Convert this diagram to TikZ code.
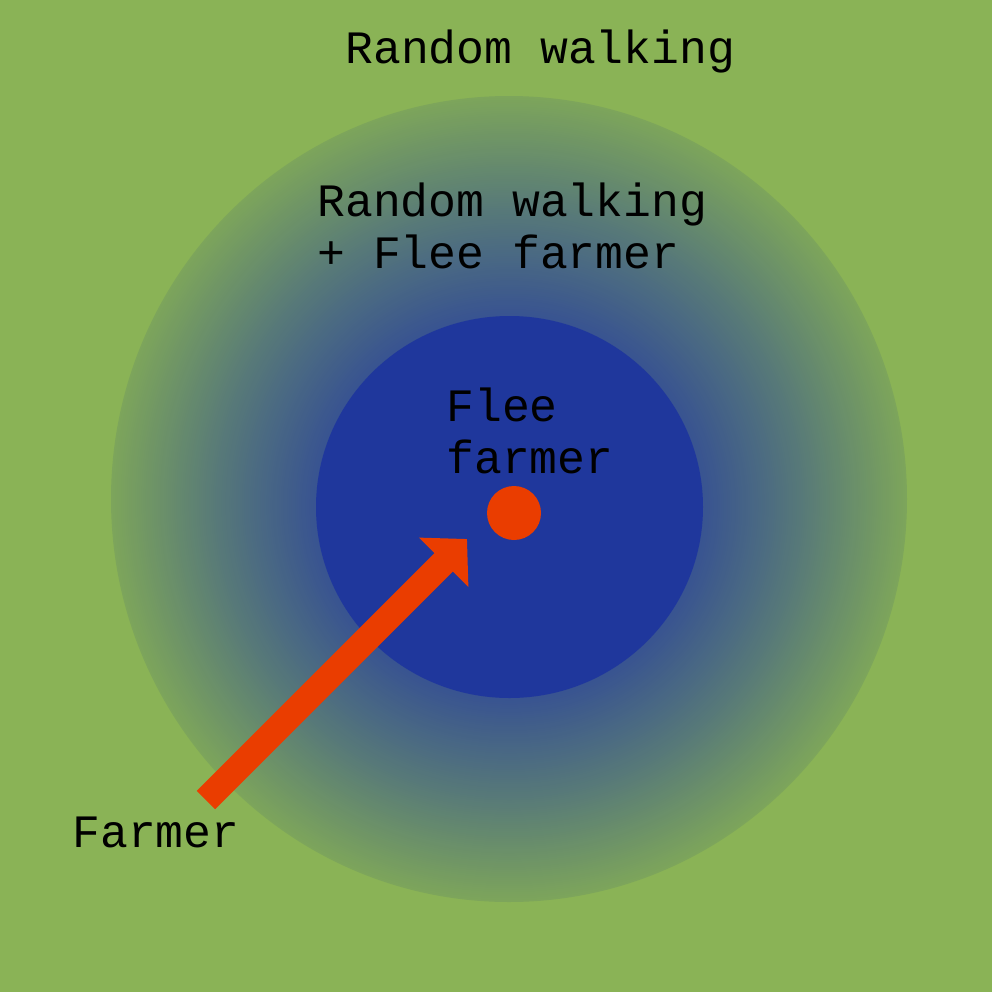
\documentclass[tikz,border=0pt]{standalone}
\usepackage{fontspec}
\setmonofont{Liberation Mono}
\usetikzlibrary{arrows.meta}
\definecolor{bggreen}{HTML}{8AB356}
\definecolor{ringin}{HTML}{385391}
\definecolor{ringmid}{HTML}{587A78}
\definecolor{ringout}{HTML}{7DA55B}
\definecolor{coreblue}{HTML}{1F379C}
\definecolor{farmred}{HTML}{EA3D00}
\begin{document}
\begin{tikzpicture}[x=0.5pt,y=-0.5pt,
  lbl/.style={anchor=base west,inner sep=0pt,font=\ttfamily\fontsize{23.2pt}{26pt}\selectfont,text=black},
  farmerarrow/.style={draw=farmred,line width=13pt,line cap=butt,-{Triangle[length=16.5pt,width=34pt]}}]
\useasboundingbox (0,0) rectangle (992,992);
\fill[bggreen] (0,0) rectangle (992,992);
% radial gradient ring, drawn as fine concentric ellipses
\foreach \i in {0,...,100}{
  \pgfmathsetmacro{\t}{\i/100}
  \pgfmathsetmacro{\cx}{509+0.5*\t}
  \pgfmathsetmacro{\cy}{499+8*\t}
  \pgfmathsetmacro{\rx}{398-204.5*\t}
  \pgfmathsetmacro{\ry}{403-212*\t}
  \ifnum\i<51
    \pgfmathsetmacro{\p}{2*\i}
    \fill[ringmid!\p!ringout] (\cx,\cy) ellipse[x radius=\rx,y radius=\ry];
  \else
    \pgfmathsetmacro{\p}{2*(\i-50)}
    \fill[ringin!\p!ringmid] (\cx,\cy) ellipse[x radius=\rx,y radius=\ry];
  \fi
}
\fill[coreblue] (509.5,507) ellipse[x radius=193.5,y radius=191];
\node[circle,fill=farmred,minimum size=27pt,inner sep=0pt] (dot) at (514,513) {};
\node[lbl] (rw) at (345,63) {Random walking};
\node[lbl] (rwf1) at (317,216) {Random walking};
\node[lbl] (rwf2) at (317,268) {+ Flee farmer};
\node[lbl] (ff1) at (446,421) {Flee};
\node[lbl] (ff2) at (446,473) {farmer};
\node[lbl] (farmer) at (72,847) {Farmer};
\coordinate (tail) at (206,800);
\coordinate (tip) at (467,539);
\draw[farmerarrow] (tail) -- (tip);
\end{tikzpicture}
\end{document}
